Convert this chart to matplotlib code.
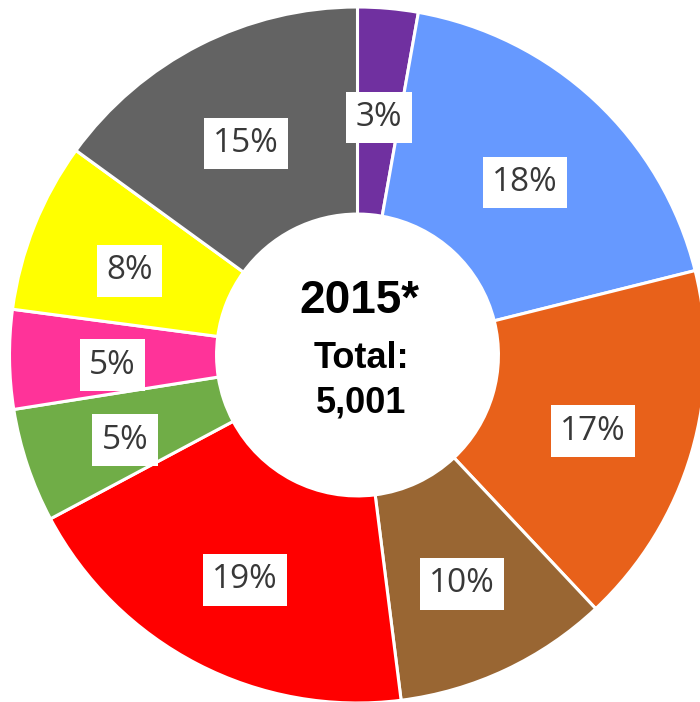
import matplotlib
matplotlib.use("Agg")
import matplotlib.pyplot as plt

# Data (clockwise from top)
categories = ["Purple", "Blue", "Orange", "Brown", "Red", "Green", "Pink", "Yellow", "Gray"]
shares = [2.8, 18.3, 16.9, 10.0, 19.2, 5.3, 4.6, 7.9, 15.0]
labels = ["3%", "18%", "17%", "10%", "19%", "5%", "5%", "8%", "15%"]
colors = ["#7030A0", "#6699FF", "#E8611A", "#996633", "#FF0000",
          "#70AD47", "#FF3399", "#FFFF00", "#636363"]
year_label = "2015*"
total_lines = ["Total:", "5,001"]

W, H = 700, 702
cx, cy, R = 357.5, 355, 348

fig = plt.figure(figsize=(W / 100, H / 100), dpi=100)
ax = fig.add_axes([0, 0, 1, 1])

wedges, texts = ax.pie(
    shares, colors=colors, startangle=90, counterclock=False,
    radius=1.0, labels=labels, labeldistance=0.705,
    wedgeprops=dict(width=0.595, edgecolor="white", linewidth=2.2),
    textprops=dict(fontsize=24, color="#383838", family=["Open Sans", "DejaVu Sans"],
                   ha="center", va="center"),
)
for t in texts:
    x, y = t.get_position()
    t.set_position((x, y - 7 / R))
    t.set_bbox(dict(facecolor="white", edgecolor="none", boxstyle="square,pad=0.28"))

ax.set_aspect("auto")
ax.set_xlim(-cx / R, (W - cx) / R)
ax.set_ylim(-(H - cy) / R, cy / R)
ax.axis("off")

def px(x, y):
    return ((x - cx) / R, (cy - y) / R)

bold = dict(ha="center", va="center", fontweight="bold",
            family=["Liberation Sans", "DejaVu Sans"], color="black")
ax.text(*px(359, 301), year_label, fontsize=33, **bold)
ax.text(*px(361, 359), total_lines[0], fontsize=26, **bold)
ax.text(*px(361, 403), total_lines[1], fontsize=26, **bold)

fig.savefig("out.png", dpi=100)
